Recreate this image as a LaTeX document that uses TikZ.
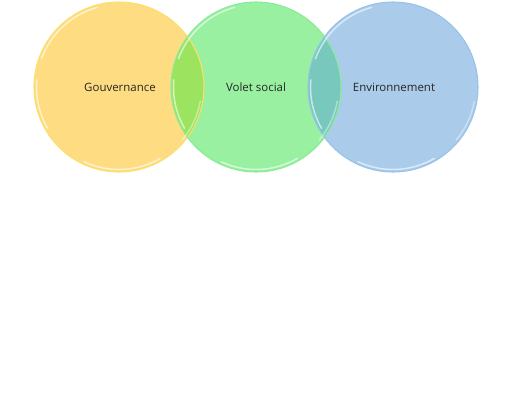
\documentclass[tikz,border=0pt]{standalone}
\usepackage{fontspec}
\setmainfont{Open Sans}
\definecolor{cyel}{RGB}{254,220,130}
\definecolor{cgrn}{RGB}{152,240,160}
\definecolor{cblu}{RGB}{170,203,234}
\definecolor{cyg}{RGB}{156,227,96}
\definecolor{cgb}{RGB}{120,200,190}
\definecolor{eyel}{RGB}{250,225,110}
\definecolor{egrn}{RGB}{140,235,150}
\definecolor{eblu}{RGB}{150,195,235}
\tikzset{
  lbl/.style={font=\fontsize{8.6}{10}\selectfont, text=black!85},
  rim/.style={white, line width=1.1pt, opacity=0.6, line cap=round},
}
\begin{document}
\begin{tikzpicture}[x=0.75pt,y=-0.75pt]
\useasboundingbox (0,0) rectangle (514,400);
\fill[white] (0,0) rectangle (514,400);
% circles
\fill[cyel] (119,87) circle (85);
\fill[cgrn] (256,87) circle (85);
\fill[cblu] (393,87) circle (85);
% overlaps
\begin{scope}
  \clip (119,87) circle (85);
  \fill[cyg] (256,87) circle (85);
\end{scope}
\begin{scope}
  \clip (256,87) circle (85);
  \fill[cgb] (393,87) circle (85);
\end{scope}
% edges
\draw[eyel, line width=0.8pt] (119,87) circle (85);
\draw[egrn, line width=0.8pt] (256,87) circle (85);
\draw[eblu, line width=0.8pt] (393,87) circle (85);
% rim highlights
\foreach \cx in {119,256,393} {
  \draw[rim] (\cx,87) ++(60:82.5) arc (60:115:82.5);
  \draw[rim] (\cx,87) ++(150:82.5) arc (150:185:82.5);
  \draw[rim] (\cx,87) ++(200:82.5) arc (200:255:82.5);
  \draw[rim, opacity=0.4] (\cx,87) ++(10:82.5) arc (10:40:82.5);
}
% labels
\node[lbl] (g) at (120,87) {Gouvernance};
\node[lbl] (v) at (256,87) {Volet social};
\node[lbl] (e) at (394,87) {Environnement};
\end{tikzpicture}
\end{document}
